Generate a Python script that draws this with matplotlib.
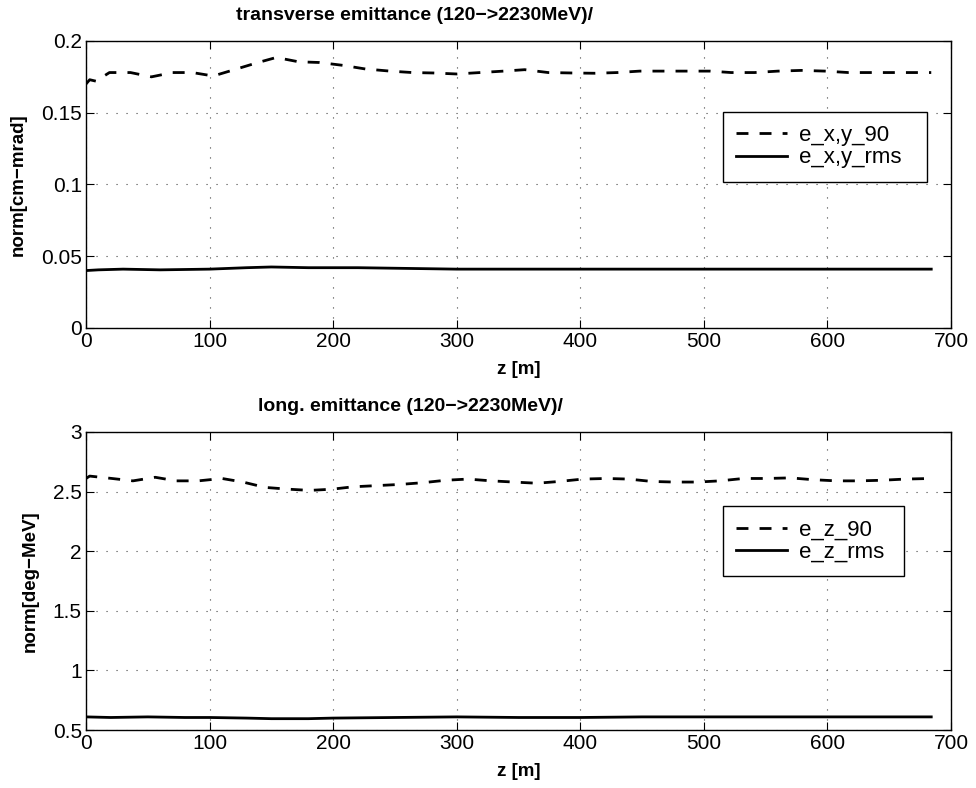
import matplotlib
matplotlib.use("Agg")
import matplotlib.pyplot as plt
import numpy as np


plt.rcParams['font.family'] = ['Liberation Sans', 'DejaVu Sans']

# transverse emittance
z_xy90 = [0, 3, 8, 19, 36, 53, 70, 86, 103, 120, 138, 154, 172, 189, 208, 226, 246, 264, 281, 300,
          319, 338, 355, 374, 393, 412, 430, 448, 467, 486, 505, 522, 541, 560, 579, 598, 617, 634,
          653, 672, 684]
e_xy90 = [0.170, 0.173, 0.172, 0.178, 0.178, 0.175, 0.178, 0.178, 0.1756, 0.180, 0.1847, 0.1885, 0.1855,
          0.185, 0.183, 0.1805, 0.179, 0.178, 0.1777, 0.177, 0.178, 0.179, 0.180, 0.178, 0.1777,
          0.1775, 0.178, 0.179, 0.179, 0.179, 0.179, 0.178, 0.178, 0.179, 0.1795, 0.179, 0.178,
          0.178, 0.178, 0.178, 0.178]
z_xyrms = [0, 10, 30, 60, 100, 130, 150, 180, 220, 260, 300, 350, 400, 450, 500, 550, 600, 650, 684]
e_xyrms = [0.040, 0.0405, 0.041, 0.0405, 0.041, 0.042, 0.0425, 0.042, 0.042, 0.0415, 0.041, 0.041,
           0.041, 0.041, 0.041, 0.041, 0.041, 0.041, 0.041]

# longitudinal emittance
z_z90 = [0, 3, 21, 38, 56, 73, 91, 110, 127, 145, 164, 181, 199, 216, 235, 254, 273, 291, 309, 328,
         346, 365, 383, 402, 421, 439, 458, 476, 495, 513, 532, 551, 570, 588, 607, 626, 644, 663, 684]
e_z90 = [2.61, 2.63, 2.61, 2.59, 2.62, 2.59, 2.59, 2.61, 2.58, 2.535, 2.52, 2.51, 2.52, 2.54, 2.55,
         2.56, 2.575, 2.595, 2.605, 2.59, 2.58, 2.57, 2.585, 2.605, 2.61, 2.605, 2.585, 2.58, 2.58,
         2.59, 2.61, 2.61, 2.615, 2.60, 2.59, 2.59, 2.595, 2.605, 2.61]
z_zrms = [0, 20, 50, 80, 100, 130, 150, 180, 200, 250, 300, 350, 400, 450, 500, 550, 600, 650, 684]
e_zrms = [0.61, 0.605, 0.61, 0.605, 0.605, 0.60, 0.595, 0.595, 0.60, 0.605, 0.61, 0.605, 0.605,
          0.61, 0.61, 0.61, 0.61, 0.61, 0.61]


def setup(ax, ylim, yticks, ylabel, title, tx):
    ax.set_xlim(0, 700)
    ax.set_ylim(*ylim)
    ax.set_xticks(range(0, 701, 100))
    ax.set_yticks(yticks)
    ax.set_yticklabels([("%g" % t) for t in yticks])
    ax.grid(True, linestyle=(0, (1, 8)), color='#444444', linewidth=0.8)
    ax.tick_params(direction='in', top=True, right=True, labelsize=15, length=6, pad=3)
    ax.set_xlabel('z [m]', fontsize=13.5, fontweight='bold', labelpad=7)
    ax.set_ylabel(ylabel, fontsize=13.5, fontweight='bold', labelpad=10)
    ax.set_title(title, fontsize=14, fontweight='bold', pad=15, x=tx)
    for s in ax.spines.values():
        s.set_linewidth(1.0)


def add_legend(ax, y0, w):
    leg = ax.legend(loc='upper left', bbox_to_anchor=(0.736, y0 - 0.3, w, 0.3), mode='expand',
                    fontsize=16, frameon=True, fancybox=False, edgecolor='k', framealpha=1,
                    handlelength=2.3, handletextpad=0.55, borderpad=0.6, labelspacing=0.05,
                    borderaxespad=0)
    leg.get_frame().set_linewidth(1.0)


fig = plt.figure(figsize=(9.76, 7.88), dpi=100)
ax1 = fig.add_axes([0.0881, 0.5838, 0.8863, 0.3642])
ax2 = fig.add_axes([0.0881, 0.0736, 0.8863, 0.3782])

ax1.plot(z_xy90, e_xy90, 'k--', lw=2.0, dashes=(4.3, 4), label='e_x,y_90')
ax1.plot(z_xyrms, e_xyrms, 'k-', lw=2.0, label='e_x,y_rms')
setup(ax1, (0, 0.2), [0, 0.05, 0.1, 0.15, 0.2], 'norm[cm\u2212mrad]',
      'transverse emittance (120\u2212>2230MeV)/', 0.38)
add_legend(ax1, 0.753, 0.236)

ax2.plot(z_z90, e_z90, 'k--', lw=2.0, dashes=(4.3, 4), label='e_z_90')
ax2.plot(z_zrms, e_zrms, 'k-', lw=2.0, label='e_z_rms')
setup(ax2, (0.5, 3), [0.5, 1, 1.5, 2, 2.5, 3], 'norm[deg\u2212MeV]',
      'long. emittance (120\u2212>2230MeV)/', 0.375)
add_legend(ax2, 0.75, 0.210)

fig.savefig('out.png', dpi=100)
